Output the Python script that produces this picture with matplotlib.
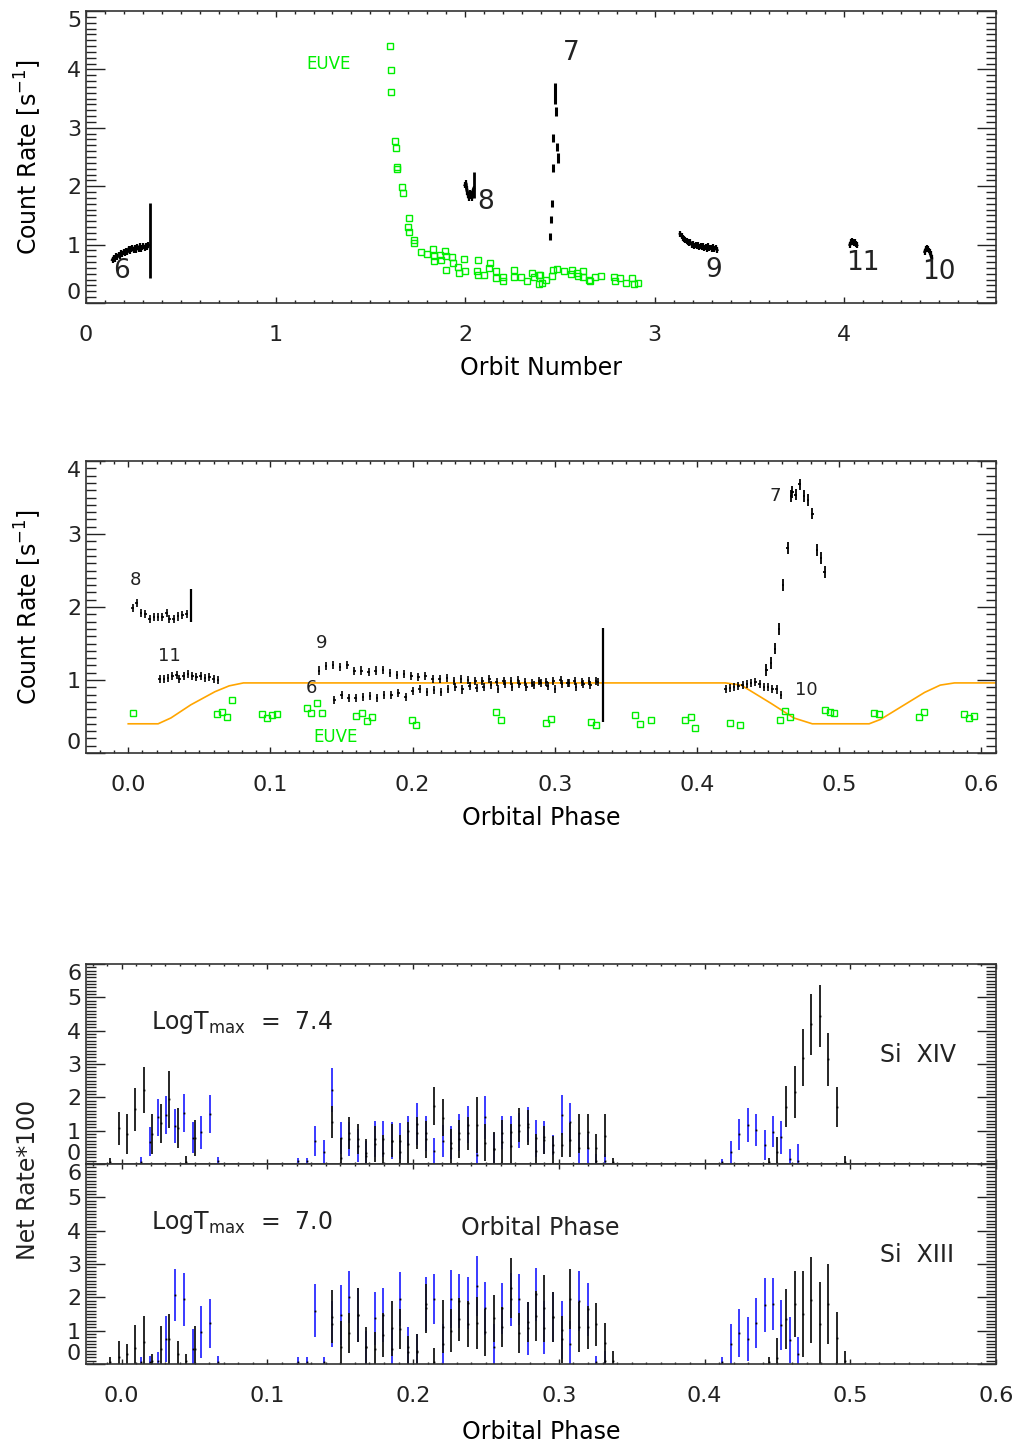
import numpy as np
import matplotlib
matplotlib.use('Agg')
import matplotlib.pyplot as plt
from matplotlib.ticker import AutoMinorLocator, MultipleLocator

plt.rcParams['font.family'] = ['DejaVu Sans']
plt.rcParams['mathtext.fontset'] = 'dejavusans'

GREEN = '#00ee00'
ORANGE = '#ffa500'
BLUE = '#3a3aff'
BLK = '#151515'

# ---------------- panel 1 : count rate vs orbit number ----------------
orb6_x = [0.140, 0.147, 0.153, 0.160, 0.166, 0.173, 0.179, 0.186, 0.192, 0.199,
          0.205, 0.212, 0.218, 0.225, 0.231, 0.238, 0.244, 0.251, 0.257, 0.264,
          0.270, 0.277, 0.283, 0.290, 0.296, 0.303, 0.309, 0.316, 0.322, 0.329]
orb6_y = [0.74, 0.78, 0.76, 0.80, 0.79, 0.83, 0.81, 0.86, 0.84, 0.88,
          0.85, 0.90, 0.87, 0.93, 0.89, 0.92, 0.95, 0.90, 0.94, 0.91,
          0.96, 0.93, 0.97, 0.92, 0.95, 0.98, 0.94, 0.97, 0.95, 0.99]
orb8_x = [2.000, 2.004, 2.008, 2.012, 2.016, 2.020, 2.024, 2.028, 2.032, 2.036, 2.040, 2.044]
orb8_y = [2.02, 2.05, 1.95, 1.90, 1.85, 1.80, 1.88, 1.83, 1.86, 1.80, 1.90, 1.95]
orb7_x = [2.4485, 2.4538, 2.4573, 2.4610, 2.4644, 2.4714, 2.4785, 2.4837, 2.4890]
orb7_y = [1.14, 1.43, 1.71, 2.31, 2.82, 3.58, 3.28, 2.67, 2.48]
orb7_e = [0.06, 0.06, 0.06, 0.07, 0.07, 0.18, 0.07, 0.07, 0.08]
orb9_x = [3.135, 3.142, 3.148, 3.155, 3.162, 3.168, 3.175, 3.182, 3.188, 3.195,
          3.202, 3.208, 3.215, 3.222, 3.228, 3.235, 3.242, 3.248, 3.255, 3.262,
          3.268, 3.275, 3.282, 3.288, 3.295, 3.302, 3.308, 3.315, 3.322, 3.328]
orb9_y = [1.18, 1.15, 1.12, 1.10, 1.08, 1.06, 1.05, 1.03, 1.04, 1.00,
          1.01, 0.98, 1.00, 0.97, 0.99, 0.96, 0.98, 0.95, 0.97, 0.94,
          0.96, 0.93, 0.97, 0.94, 0.95, 0.92, 0.96, 0.93, 0.95, 0.91]
orb11_x = [4.030, 4.035, 4.040, 4.045, 4.050, 4.055, 4.060, 4.065]
orb11_y = [1.00, 1.04, 1.06, 1.05, 1.03, 1.04, 1.01, 0.99]
orb10_x = [4.425, 4.430, 4.435, 4.440, 4.445, 4.450, 4.455, 4.460]
orb10_y = [0.88, 0.92, 0.95, 0.93, 0.90, 0.88, 0.84, 0.78]
big1_x = [0.335, 2.048]
big1_y = [1.07, 2.02]
big1_e = [0.64, 0.23]

euve1_x = [1.604, 1.608, 1.611, 1.632, 1.637, 1.643, 1.641, 1.668, 1.673, 1.703,
           1.699, 1.706, 1.732, 1.732, 1.766, 1.798, 1.830, 1.836, 1.836, 1.866,
           1.870, 1.896, 1.900, 1.901, 1.931, 1.935, 1.961, 1.968, 1.995, 2.000,
           2.070, 2.062, 2.070, 2.097, 2.130, 2.125, 2.164, 2.164, 2.199, 2.202,
           2.255, 2.260, 2.294, 2.326, 2.355, 2.364, 2.392, 2.392, 2.396, 2.405,
           2.426, 2.457, 2.463, 2.487, 2.522, 2.558, 2.563, 2.591, 2.596, 2.621,
           2.623, 2.651, 2.656, 2.686, 2.716, 2.783, 2.790, 2.818, 2.850, 2.881,
           2.888, 2.913]
euve1_y = [4.40, 3.99, 3.62, 2.78, 2.66, 2.33, 2.29, 1.99, 1.88, 1.45,
           1.30, 1.21, 1.08, 1.02, 0.87, 0.84, 0.93, 0.81, 0.72, 0.82,
           0.73, 0.89, 0.81, 0.57, 0.79, 0.68, 0.61, 0.52, 0.75, 0.55,
           0.73, 0.54, 0.48, 0.48, 0.68, 0.60, 0.54, 0.42, 0.44, 0.38,
           0.56, 0.44, 0.45, 0.38, 0.52, 0.44, 0.48, 0.33, 0.48, 0.34,
           0.40, 0.47, 0.57, 0.58, 0.55, 0.49, 0.57, 0.52, 0.47, 0.44,
           0.54, 0.40, 0.37, 0.45, 0.46, 0.45, 0.37, 0.43, 0.35, 0.43,
           0.33, 0.35]

# ---------------- panel 2 : count rate vs orbital phase ----------------
ph8 = [0.003, 0.006, 0.009, 0.012, 0.015, 0.018, 0.021, 0.024, 0.027, 0.029,
       0.032, 0.035, 0.038, 0.041]
rt8 = [1.99, 2.05, 1.92, 1.90, 1.83, 1.86, 1.86, 1.86, 1.92, 1.83, 1.84, 1.87, 1.89, 1.90]
ph11 = [0.022, 0.025, 0.028, 0.031, 0.034, 0.036, 0.039, 0.042, 0.045, 0.048,
        0.051, 0.054, 0.057, 0.060, 0.063]
rt11 = [1.02, 1.01, 1.03, 1.05, 1.07, 1.02, 1.05, 1.08, 1.06, 1.04, 1.05, 1.03, 1.04, 1.02, 1.00]
ph9 = [0.134, 0.139, 0.144, 0.149, 0.154, 0.159, 0.164, 0.169, 0.174, 0.179,
       0.184, 0.189, 0.194, 0.199, 0.204, 0.209, 0.214, 0.219, 0.224, 0.229,
       0.234, 0.239, 0.244, 0.249, 0.254, 0.259, 0.264, 0.269, 0.274, 0.279,
       0.284, 0.289, 0.294, 0.299, 0.304, 0.309, 0.314, 0.319, 0.324, 0.329]
rt9 = [1.13, 1.19, 1.21, 1.18, 1.20, 1.12, 1.13, 1.11, 1.13, 1.14,
       1.10, 1.07, 1.08, 1.05, 1.04, 1.06, 1.02, 1.01, 1.03, 0.99,
       1.02, 1.00, 0.98, 0.99, 1.01, 0.97, 0.99, 0.98, 1.00, 0.97,
       0.96, 0.99, 0.97, 0.98, 1.00, 0.96, 0.98, 0.97, 0.99, 0.98]
ph6 = [0.145, 0.150, 0.155, 0.160, 0.165, 0.170, 0.175, 0.180, 0.185, 0.190,
       0.195, 0.200, 0.205, 0.210, 0.215, 0.220, 0.225, 0.230, 0.235, 0.240,
       0.245, 0.250, 0.255, 0.260, 0.265, 0.270, 0.275, 0.280, 0.285, 0.290,
       0.295, 0.300, 0.305, 0.310, 0.315, 0.320, 0.325, 0.330]
rt6 = [0.72, 0.80, 0.76, 0.75, 0.77, 0.78, 0.76, 0.80, 0.79, 0.82,
       0.77, 0.85, 0.88, 0.83, 0.86, 0.84, 0.88, 0.90, 0.87, 0.92,
       0.89, 0.91, 0.93, 0.88, 0.94, 0.91, 0.95, 0.90, 0.93, 0.96,
       0.92, 0.88, 0.94, 0.96, 0.91, 0.95, 0.93, 0.97]
ph10 = [0.420, 0.423, 0.426, 0.429, 0.432, 0.435, 0.438, 0.441, 0.444, 0.447,
        0.450, 0.453, 0.456, 0.459]
rt10 = [0.88, 0.89, 0.90, 0.92, 0.93, 0.95, 0.96, 0.97, 0.94, 0.91, 0.90, 0.88, 0.87, 0.80]
ph7 = [0.4488, 0.4519, 0.4547, 0.4577, 0.4605, 0.4636, 0.4660, 0.4670, 0.4694, 0.4722,
       0.4753, 0.4781, 0.4811, 0.4842, 0.4870, 0.4898]
rt7 = [1.14, 1.23, 1.43, 1.70, 2.30, 2.81, 3.52, 3.58, 3.54, 3.68,
       3.52, 3.47, 3.28, 2.78, 2.67, 2.48]
big2_ph = [0.044, 0.3335]
big2_rt = [2.02, 1.07]
big2_e = [0.23, 0.64]

model_ph = [0.000, 0.021, 0.030, 0.044, 0.061, 0.071, 0.081, 0.420, 0.431, 0.452,
            0.468, 0.481, 0.521, 0.529, 0.560, 0.571, 0.581, 0.611]
model_rt = [0.40, 0.40, 0.48, 0.66, 0.84, 0.92, 0.96, 0.96, 0.93, 0.68,
            0.48, 0.40, 0.40, 0.46, 0.83, 0.93, 0.96, 0.96]

euve2_ph = [0.0033, 0.0625, 0.0660, 0.0698, 0.0731, 0.0942, 0.0979, 0.1010, 0.1047, 0.1256,
            0.1288, 0.1326, 0.1363, 0.1604, 0.1641, 0.1677, 0.1715, 0.1994, 0.2026, 0.2586,
            0.2621, 0.2937, 0.2973, 0.3254, 0.3289, 0.3565, 0.3600, 0.3675, 0.3917, 0.3954,
            0.3987, 0.4233, 0.4301, 0.4580, 0.4619, 0.4652, 0.4900, 0.4933, 0.4966, 0.5247,
            0.5282, 0.5561, 0.5596, 0.5877, 0.5912, 0.5947]
euve2_rt = [0.55, 0.54, 0.56, 0.49, 0.73, 0.53, 0.48, 0.52, 0.53, 0.61,
            0.55, 0.68, 0.55, 0.51, 0.55, 0.44, 0.50, 0.45, 0.39, 0.56,
            0.45, 0.41, 0.47, 0.43, 0.38, 0.52, 0.40, 0.45, 0.45, 0.49,
            0.34, 0.41, 0.39, 0.45, 0.57, 0.50, 0.59, 0.56, 0.55, 0.55,
            0.54, 0.49, 0.56, 0.53, 0.48, 0.51]

# ---------------- panels 3/4 : Si XIV and Si XIII net rates ----------------
blk_ph = [-0.008, -0.002, 0.0034, 0.0094, 0.0151, 0.0210, 0.0268, 0.0325, 0.0385, 0.0444, 0.0502,
          0.1443, 0.1503, 0.1562, 0.1620, 0.1677, 0.1737, 0.1794, 0.1854, 0.1911, 0.1968,
          0.2027, 0.2087, 0.2144, 0.2204, 0.2261, 0.2318, 0.2376, 0.2435, 0.2495, 0.2555,
          0.2612, 0.2671, 0.2729, 0.2788, 0.2845, 0.2900, 0.2960, 0.3022, 0.3079, 0.3139,
          0.3198, 0.3256, 0.3315, 0.3373,
          0.4440, 0.4500, 0.4559, 0.4619, 0.4676, 0.4733, 0.4793, 0.4850, 0.4909, 0.4967]
blu_ph = [0.0135, 0.0192, 0.0250, 0.0307, 0.0369, 0.0428, 0.0486, 0.0543, 0.0603, 0.0660,
          0.1207, 0.1269, 0.1329, 0.1386, 0.1443, 0.1503, 0.1562, 0.1620, 0.1677, 0.1737,
          0.1794, 0.1854, 0.1911, 0.1968, 0.2027, 0.2087, 0.2144, 0.2204, 0.2261, 0.2318,
          0.2376, 0.2435, 0.2495, 0.2555, 0.2612, 0.2671, 0.2729, 0.2788, 0.2845, 0.2900,
          0.2960, 0.3022, 0.3079, 0.3139, 0.3198, 0.3256, 0.3315,
          0.4117, 0.4179, 0.4238, 0.4296, 0.4355, 0.4412, 0.4470, 0.4527, 0.4586, 0.4644]

si14_blk = [0.05, 1.07, 0.90, 1.64, 2.22, 0.90, 1.22, 1.94, 1.07, 0.07, 0.79,
            1.25, 0.17, 0.92, 0.75, 0.25, 0.60, 0.32, 0.70, 0.37, 0.59,
            0.94, 0.74, 1.74, 1.39, 0.49, 0.75, 0.92, 1.17, 0.64, 0.45,
            0.67, 0.55, 1.17, 1.10, 0.40, 0.72, 0.35, 0.57, 0.72, 0.92,
            0.97, 0.47, 0.85, 0.05,
            0.05, 0.37, 1.72, 2.16, 3.19, 4.19, 4.44, 3.14, 1.72, 0.05]
si14_blk_e = [0.12, 0.50, 0.60, 0.64, 0.69, 0.60, 0.59, 0.86, 0.60, 0.17, 0.54,
              0.48, 0.60, 0.48, 0.45, 0.50, 0.54, 0.55, 0.50, 0.50, 0.66,
              0.48, 0.55, 0.57, 0.56, 0.55, 0.58, 0.50, 0.84, 0.55, 0.50,
              0.64, 0.65, 0.52, 0.52, 0.50, 0.43, 0.50, 0.35, 0.50, 0.58,
              0.52, 0.44, 0.65, 0.12,
              0.12, 0.45, 0.62, 0.78, 0.86, 0.91, 0.92, 0.80, 0.60, 0.18]
si14_blu = [0.05, 0.67, 1.40, 1.47, 1.14, 1.54, 0.79, 0.95, 1.50, 0.10,
            0.08, 0.08, 0.69, 0.35, 2.22, 0.78, 0.75, 0.55, 0.34, 0.75,
            0.75, 0.70, 0.69, 1.00, 1.20, 0.92, 0.39, 0.69, 0.64, 0.94,
            1.18, 0.27, 1.40, 0.45, 0.94, 0.97, 1.00, 1.19, 0.77, 0.80,
            0.57, 1.47, 1.25, 0.47, 0.47, 0.10, 0.10,
            0.05, 0.35, 0.89, 1.17, 1.02, 0.57, 0.97, 0.80, 0.14, 0.10]
si14_blu_e = [0.15, 0.43, 0.55, 0.57, 0.52, 0.57, 0.47, 0.50, 0.56, 0.10,
              0.10, 0.10, 0.46, 0.38, 0.65, 0.47, 0.50, 0.50, 0.36, 0.55,
              0.55, 0.55, 0.55, 0.45, 0.62, 0.53, 0.39, 0.47, 0.50, 0.56,
              0.55, 0.46, 0.64, 0.47, 0.50, 0.48, 0.52, 0.52, 0.55, 0.50,
              0.31, 0.60, 0.58, 0.46, 0.44, 0.20, 0.20,
              0.10, 0.35, 0.46, 0.50, 0.49, 0.46, 0.47, 0.50, 0.30, 0.50]

si13_blk = [0.05, 0.20, 0.30, 0.47, 0.65, 0.10, 0.44, 0.75, 0.30, 0.10, 0.45,
            1.42, 0.50, 0.92, 1.47, 0.50, 0.45, 0.87, 1.07, 1.04, 0.35,
            0.35, 1.67, 0.07, 1.12, 1.00, 1.34, 1.20, 1.24, 0.95, 1.37,
            1.12, 2.27, 0.92, 1.27, 1.44, 1.67, 1.40, 0.74, 1.95, 1.12,
            1.10, 1.19, 0.62, 0.10,
            0.05, 0.19, 1.35, 1.80, 1.50, 1.92, 1.20, 1.80, 0.77, 0.10]
si13_blk_e = [0.15, 0.50, 0.30, 0.70, 0.80, 0.20, 0.70, 0.75, 0.40, 0.20, 0.70,
              0.80, 0.80, 0.60, 0.80, 0.60, 0.50, 0.65, 0.83, 0.60, 0.50,
              0.55, 0.73, 0.40, 0.80, 0.65, 0.65, 0.70, 0.78, 0.70, 0.70,
              0.60, 0.90, 0.60, 0.60, 0.75, 1.00, 0.75, 0.70, 0.90, 0.75,
              0.65, 0.64, 0.62, 0.30,
              0.15, 0.60, 0.90, 1.00, 1.30, 1.30, 1.25, 1.20, 0.78, 0.30]
si13_blu = [0.05, 0.05, 0.10, 0.75, 2.07, 1.94, 0.45, 0.95, 1.22, 0.05,
            0.05, 0.05, 1.60, 0.05, 1.20, 1.47, 2.00, 1.47, 0.50, 1.37,
            1.47, 0.45, 1.95, 0.50, 0.40, 1.80, 1.95, 0.60, 1.95, 1.89,
            1.84, 2.34, 1.67, 0.50, 1.67, 1.94, 1.94, 1.07, 2.09, 1.09,
            1.40, 1.02, 0.60, 1.89, 1.64, 0.05, 0.10,
            0.05, 0.59, 0.92, 0.74, 1.22, 1.77, 1.80, 1.17, 0.72, 0.30]
si13_blu_e = [0.15, 0.20, 0.25, 0.70, 0.78, 0.80, 0.60, 0.78, 0.74, 0.20,
              0.15, 0.15, 0.80, 0.15, 0.70, 0.90, 0.78, 0.80, 0.50, 0.80,
              0.80, 0.60, 0.82, 0.60, 0.50, 0.80, 0.75, 0.60, 0.86, 0.80,
              0.78, 0.90, 0.80, 0.70, 0.76, 0.80, 0.76, 0.80, 0.80, 0.80,
              0.75, 0.86, 0.70, 0.90, 0.80, 0.20, 0.30,
              0.15, 0.60, 0.72, 0.66, 0.75, 0.80, 0.77, 0.76, 0.70, 0.50]

FS = 16
TXT = '#222222'


def style(ax, xlen=4.5):
    ax.tick_params(which='both', direction='in', top=True, right=True,
                   labelsize=FS, colors=TXT)
    ax.tick_params(axis='y', which='major', length=13.5, width=1.0)
    ax.tick_params(axis='y', which='minor', length=7, width=1.0)
    ax.tick_params(axis='x', which='major', length=xlen, width=1.0, pad=16)
    ax.tick_params(axis='x', which='minor', length=xlen / 2, width=1.0)
    ax.xaxis.set_minor_locator(AutoMinorLocator(10))
    ax.yaxis.set_minor_locator(AutoMinorLocator(10))
    for s in ax.spines.values():
        s.set_linewidth(1.2)
        s.set_color('#333333')


def shift_ylabels(ax):
    labs = ax.get_yticklabels()
    labs[0].set_verticalalignment('bottom')
    labs[-1].set_verticalalignment('top')


def put_ylabel(ax, text):
    ax.set_ylabel(text, fontsize=FS + 1)
    ax.yaxis.label.set_verticalalignment('center')
    ax.yaxis.set_label_coords(-58 / 910, 0.5)


fig = plt.figure(figsize=(10.2, 14.47), dpi=100)
W = 910 / 1020

# ---- panel 1
ax1 = fig.add_axes([86 / 1020, 1 - 303 / 1447, W, 292 / 1447])
ax1.set_xlim(0, 4.8)
ax1.set_ylim(0, 5)
style(ax1, xlen=4.5)
ax1.set_yticks(range(6))
ax1.set_xticks(range(5))
shift_ylabels(ax1)
for xs, ys in [(orb6_x, orb6_y), (orb8_x, orb8_y), (orb9_x, orb9_y),
               (orb11_x, orb11_y), (orb10_x, orb10_y)]:
    ax1.errorbar(xs, ys, yerr=0.05, fmt='none', ecolor='k', elinewidth=1.6)
    ax1.plot(xs, ys, color='k', lw=2.2)
ax1.errorbar(orb7_x, orb7_y, yerr=orb7_e, fmt='none', ecolor='k', elinewidth=2.2)
ax1.errorbar(big1_x, big1_y, yerr=big1_e, fmt='none', ecolor='k', elinewidth=2)
ax1.plot(euve1_x, euve1_y, 's', ms=4.2, mfc='none', mec=GREEN, mew=1.0)
ax1.text(1.28, 4.1, 'EUVE', color=GREEN, fontsize=12, ha='center', va='center')
for lab, lx, ly in [('6', 0.185, 0.55), ('8', 2.11, 1.73), ('7', 2.56, 4.28),
                    ('9', 3.31, 0.57), ('11', 4.10, 0.69), ('10', 4.50, 0.53)]:
    ax1.text(lx, ly, lab, fontsize=19, ha='center', va='center', color=TXT)
ax1.set_xlabel('Orbit Number', fontsize=FS + 1, labelpad=8)
put_ylabel(ax1, r'Count Rate [s$^{-1}$]')

# ---- panel 2
ax2 = fig.add_axes([86 / 1020, 1 - 753 / 1447, W, 292 / 1447])
ax2.set_xlim(-0.0297, 0.6102)
ax2.set_ylim(0, 4)
style(ax2, xlen=4.5)
ax2.set_yticks(range(5))
ax2.set_xticks([0.0, 0.1, 0.2, 0.3, 0.4, 0.5, 0.6])
ax2.set_xticklabels(['0.0', '0.1', '0.2', '0.3', '0.4', '0.5', '0.6'])
shift_ylabels(ax2)
ax2.plot(model_ph, model_rt, color=ORANGE, lw=1.2)
for xs, ys in [(ph8, rt8), (ph11, rt11), (ph9, rt9), (ph6, rt6), (ph10, rt10)]:
    ax2.errorbar(xs, ys, yerr=0.055, xerr=0.0009, fmt='none', ecolor='k', elinewidth=1.2)
ax2.errorbar(ph7, rt7, yerr=0.08, xerr=0.0009, fmt='none', ecolor='k', elinewidth=1.3)
ax2.errorbar(big2_ph, big2_rt, yerr=big2_e, fmt='none', ecolor='k', elinewidth=1.6)
ax2.plot(euve2_ph, euve2_rt, 's', ms=4.2, mfc='none', mec=GREEN, mew=1.0)
ax2.text(0.146, 0.22, 'EUVE', color=GREEN, fontsize=12, ha='center', va='center')
for lab, lx, ly in [('8', 0.005, 2.37), ('11', 0.029, 1.33), ('9', 0.136, 1.50),
                    ('6', 0.129, 0.89), ('7', 0.4547, 3.52), ('10', 0.477, 0.86)]:
    ax2.text(lx, ly, lab, fontsize=13, ha='center', va='center', color=TXT)
ax2.set_xlabel('Orbital Phase', fontsize=FS + 1, labelpad=8)
put_ylabel(ax2, r'Count Rate [s$^{-1}$]')

# ---- panels 3 and 4
H3 = 200 / 1447
ax3 = fig.add_axes([86 / 1020, 1 - 1164 / 1447, W, H3])
ax4 = fig.add_axes([86 / 1020, 1 - 1364 / 1447, W, H3])
for ax, bv, be, uv, ue, temp, ion in [
        (ax3, si14_blk, si14_blk_e, si14_blu, si14_blu_e, '7.4', 'Si  XIV'),
        (ax4, si13_blk, si13_blk_e, si13_blu, si13_blu_e, '7.0', 'Si  XIII')]:
    ax.set_xlim(-0.0245, 0.6)
    ax.set_ylim(0, 6)
    style(ax, xlen=3.5)
    ax.set_yticks(range(7))
    ax.set_xticks([0.0, 0.1, 0.2, 0.3, 0.4, 0.5, 0.6])
    shift_ylabels(ax)
    ax.errorbar(blu_ph, uv, yerr=ue, fmt='none', ecolor=BLUE, elinewidth=1.4)
    ax.errorbar(blk_ph, bv, yerr=be, fmt='none', ecolor=BLK, elinewidth=1.3)
    ax.plot(blu_ph, uv, 's', ms=1.3, color='k', mew=0)
    ax.plot(blk_ph, bv, 's', ms=1.3, color='k', mew=0)
    ax.text(0.071, 0.71, r'LogT$_{\rm max}$  =  ' + temp, transform=ax.transAxes,
            fontsize=FS + 1, ha='left', va='center', color=TXT)
    ax.text(0.8725, 0.545, ion, transform=ax.transAxes, fontsize=FS + 1,
            ha='left', va='center', color=TXT)
ax3.tick_params(axis='x', labelbottom=False)
ax4.set_xticklabels(['0.0', '0.1', '0.2', '0.3', '0.4', '0.5', '0.6'])
ax4.text(0.499, 0.68, 'Orbital Phase', transform=ax4.transAxes, fontsize=FS + 1,
         ha='center', va='center', color=TXT)
ax4.set_xlabel('Orbital Phase', fontsize=FS + 1, labelpad=10)
fig.text(28 / 1020, 1 - 1180 / 1447, 'Net Rate*100', rotation=90, fontsize=FS + 1,
         ha='center', va='center', color=TXT)

fig.savefig('out.png', dpi=100)
